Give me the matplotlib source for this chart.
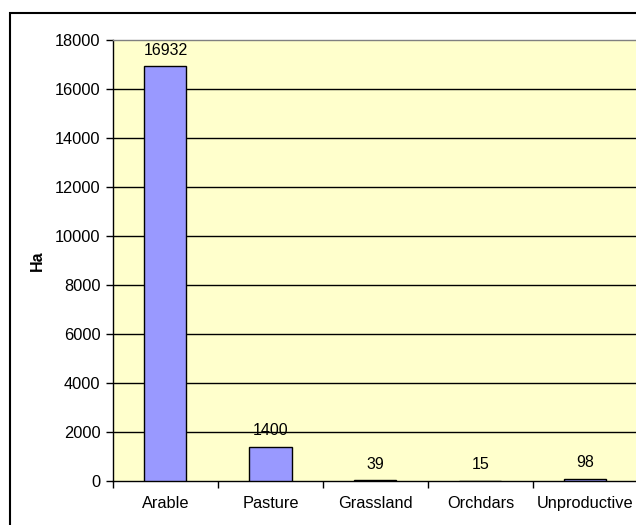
import matplotlib.pyplot as plt
from matplotlib.patches import Rectangle
import numpy as np

# Data
categories = ["Arable", "Pasture", "Grassland", "Orchdars", "Unproductive"]
values = [16932, 1400, 39, 15, 98]
y_ticks = list(range(0, 18001, 2000))

plt.rcParams['font.family'] = ['Liberation Sans', 'DejaVu Sans']

fig = plt.figure(figsize=(6.36, 5.25), dpi=100)
fig.patch.set_facecolor("white")

# outer chart frame (cut at right/bottom edges like the original)
fig.patches.append(Rectangle((10 / 636, -0.05), 1.0, 1 - 13 / 525 + 0.05,
                             transform=fig.transFigure, fill=False,
                             edgecolor="black", linewidth=1.5, clip_on=False))

ax = fig.add_axes([113 / 636, 1 - 481 / 525, 525 / 636, 441 / 525])
ax.set_facecolor("#FFFFCC")

x = np.arange(len(categories))
ax.bar(x, values, width=0.4, color="#9999FF", edgecolor="black",
       linewidth=1, zorder=3)

# horizontal gridlines
for t in y_ticks[1:-1]:
    ax.axhline(t, color="black", linewidth=1, zorder=1)

# value labels
for xi, v in zip(x, values):
    ax.annotate(str(v), (xi, v), xytext=(0, 6), textcoords="offset points",
                ha="center", va="bottom", fontsize=11.5)

ax.set_xlim(-0.5, len(categories) - 0.5)
ax.set_ylim(0, 18000)
ax.set_yticks(y_ticks)
ax.set_yticklabels([str(t) for t in y_ticks], fontsize=11.8)

ax.set_xticks(x)
ax.set_xticklabels(categories, fontsize=11.8)
ax.tick_params(axis="x", length=0, pad=11)
ax.set_xticks(np.arange(len(categories) + 1) - 0.5, minor=True)
ax.tick_params(axis="x", which="minor", length=5, width=1, direction="out")
ax.tick_params(axis="y", length=5, width=1, direction="out", pad=4)

ax.set_ylabel("Ha", fontsize=11.5, fontweight="bold", labelpad=7)

for s in ["left", "bottom"]:
    ax.spines[s].set_color("black")
    ax.spines[s].set_linewidth(1)
for s in ["top", "right"]:
    ax.spines[s].set_color("#808080")
    ax.spines[s].set_linewidth(1)

plt.savefig("out.png", dpi=100)
